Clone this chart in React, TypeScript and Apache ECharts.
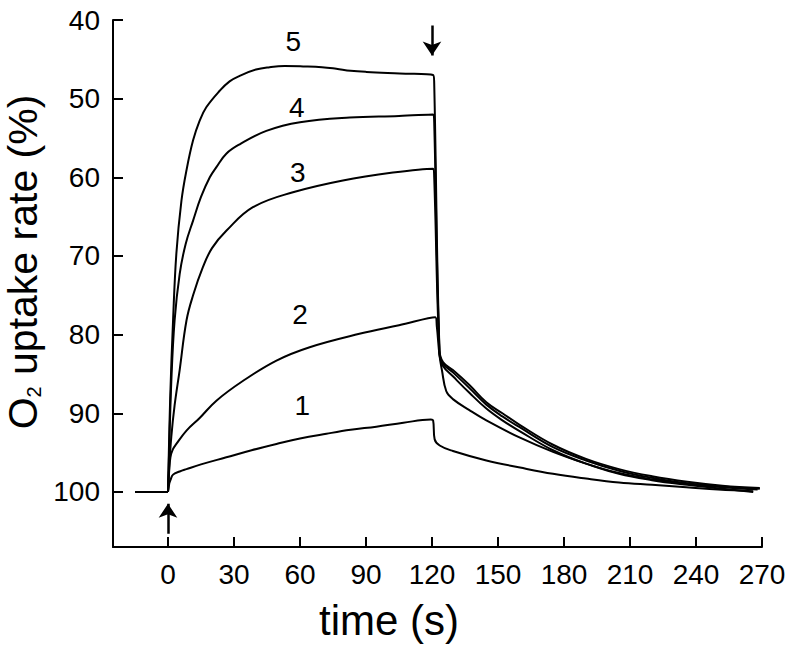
import React, { useEffect, useRef } from 'react';
import * as echarts from 'echarts';

const FONT = "'Liberation Sans', Arial, Helvetica, sans-serif";

// time (s), O2 uptake rate (%)
const baseline = [[-15, 100], [0, 100]];

const curve1 = [
  [0, 100], [0.6, 98.9], [1.1, 98.5], [2.3, 97.8], [5.3, 97.4], [8.4, 97.1], [15, 96.5], [26.5, 95.6],
  [38, 94.7], [49.3, 93.9], [60, 93.2], [72, 92.6], [83, 92.1], [94.7, 91.7], [107, 91.2], [119.5, 90.8],
  [120.5, 90.9], [121.2, 93.3], [123.5, 94.1], [129.5, 94.8], [144.7, 96.0], [160, 96.9], [175, 97.7],
  [190, 98.3], [205, 98.8], [220, 99.1], [235.6, 99.4], [250, 99.7], [266, 99.9]
];

const curve2 = [
  [0, 100], [0.5, 97.5], [1.1, 95.6], [2.2, 94.6], [3.8, 93.9], [8.4, 92.2], [14.4, 90.6], [22, 88.4],
  [34, 85.9], [49.3, 83.3], [64.4, 81.6], [87, 79.9], [105, 78.8], [121.5, 77.8],
  [122.2, 79.0], [123.4, 82.6], [124.5, 84.5], [126.5, 87.2], [129.5, 88.2], [137, 89.6], [144.7, 90.9],
  [160, 93.1], [175, 94.9], [190, 96.4], [205, 97.7], [220, 98.5], [236, 99.1], [252, 99.6], [266, 100.0]
];

const curve3 = [
  [0, 100], [0.5, 97], [1.5, 93], [3, 89], [5.3, 84.5], [8.4, 78.2], [11.4, 75.0], [15.9, 71.4],
  [20, 69.0], [26.5, 66.8], [38.6, 63.8], [56.8, 61.9], [79.5, 60.4], [102.3, 59.4], [120.5, 58.9],
  [121, 60.0], [123.4, 82.4], [125, 84.0], [129.5, 85.3], [137, 87.4], [144.7, 89.4], [152, 90.9],
  [160, 92.3], [175, 94.7], [190, 96.4], [205, 97.6], [220, 98.4], [236, 99.0], [252, 99.4], [268, 99.7]
];

const curve4 = [
  [0, 100], [0.5, 95], [1.5, 86], [3, 78.2], [5.3, 72.3], [8, 68.5], [11.4, 65.5], [15, 62.5],
  [19, 60.0], [22, 58.7], [26.5, 57.0], [32.6, 55.8], [44.7, 54.1], [60, 53.0], [82.6, 52.4],
  [105, 52.2], [120.5, 52.0],
  [121, 53.0], [123.4, 82.2], [125, 83.7], [129.5, 84.8], [137, 86.8], [144.7, 88.9], [152, 90.4],
  [160, 91.8], [175, 94.3], [190, 96.0], [205, 97.3], [220, 98.2], [236, 98.9], [252, 99.3], [269, 99.6]
];

const curve5 = [
  [0, 100], [0.3, 96], [1, 88], [2.3, 78.2], [3.8, 69.7], [6.1, 63.0], [8.4, 59.1], [11.4, 55.3],
  [14.4, 52.8], [17.4, 51.1], [23.5, 49.0], [28, 47.8], [32.6, 47.1], [40, 46.3], [46.2, 46.0],
  [53, 45.85], [61.4, 45.9], [70, 46.0], [76.5, 46.2], [83, 46.45], [90.2, 46.6], [105.3, 46.8],
  [120.5, 47.0],
  [121, 48.0], [123.4, 82.0], [125, 83.5], [129.5, 84.5], [137, 86.4], [144.7, 88.6], [152, 90.0],
  [160, 91.5], [175, 94.0], [190, 95.8], [205, 97.1], [220, 98.0], [236, 98.7], [252, 99.2], [269, 99.5]
];

const curveLabelText = ['1', '2', '3', '4', '5'];
const curveLabelX = [61, 60, 59, 58.5, 57];
const curveLabelY = [89.0, 77.5, 59.4, 51.1, 42.7];

const xTicks = [0, 30, 60, 90, 120, 150, 180, 210, 240, 270];
const yTicks = [40, 50, 60, 70, 80, 90, 100];

const arrowUp = [[0, 105.3], [0, 101.5]];
const arrowDown = [[120, 40.7], [120, 44.5]];

const curves = [curve1, curve2, curve3, curve4, curve5];

export default function App() {
  const ref = useRef<HTMLDivElement>(null);
  useEffect(() => {
    if (!ref.current) return;
    const chart = echarts.init(ref.current, null, { renderer: 'svg' });
    const lineSeries: any[] = curves.map((c, i) => ({
      type: 'line',
      name: 'curve' + (i + 1),
      data: c,
      symbol: 'none',
      smooth: 0.4,
      lineStyle: { color: '#000', width: 2 },
      z: 3,
    }));
    const option: any = {
      animation: false,
      backgroundColor: '#fff',
      grid: { left: 113, right: 30, top: 20, bottom: 105, containLabel: false },
      xAxis: {
        type: 'value', min: -25, max: 270,
        axisLine: { show: true, onZero: false, lineStyle: { color: '#000', width: 2 } },
        axisTick: { show: true, inside: true, length: 10, customValues: xTicks, lineStyle: { color: '#000', width: 2 } },
        axisLabel: { show: true, customValues: xTicks, color: '#000', fontSize: 28, fontFamily: FONT, margin: 13 },
        splitLine: { show: false },
      },
      yAxis: {
        type: 'value', inverse: true, min: 40, max: 107,
        axisLine: { show: true, onZero: false, lineStyle: { color: '#000', width: 2 } },
        axisTick: { show: true, inside: true, length: 10, customValues: yTicks, lineStyle: { color: '#000', width: 2 } },
        axisLabel: { show: true, customValues: yTicks, color: '#000', fontSize: 28, fontFamily: FONT, margin: 13 },
        splitLine: { show: false },
      },
      series: [
        {
          type: 'line', name: 'baseline', data: baseline, symbol: 'none',
          lineStyle: { color: '#000', width: 2 }, z: 3,
        },
        ...lineSeries,
        {
          type: 'scatter', name: 'labels',
          data: curveLabelText.map((t, i) => [curveLabelX[i], curveLabelY[i], t]),
          symbol: 'circle',
          symbolSize: 1,
          itemStyle: { color: '#000', opacity: 0 },
          label: {
            show: true, position: 'inside', formatter: (p: any) => p.data[2],
            color: '#000', opacity: 1, fontSize: 28, fontFamily: FONT,
            textBorderWidth: 0, textBorderColor: 'transparent',
          },
          emphasis: { disabled: true },
          z: 4,
        },
        {
          type: 'lines', coordinateSystem: 'cartesian2d', name: 'arrows',
          symbol: ['none', 'arrow'], symbolSize: [9, 14],
          lineStyle: { color: '#000', width: 2.5, opacity: 1 },
          data: [{ coords: arrowUp }, { coords: arrowDown }],
          z: 4,
        },
      ],
      graphic: [
        {
          type: 'text', x: 23, y: 262, rotation: Math.PI / 2,
          style: {
            text: 'O{s|2} uptake rate (%)',
            fontSize: 41, fontFamily: FONT, fill: '#000',
            lineHeight: 41,
            align: 'center', verticalAlign: 'middle',
            textAlign: 'center', textVerticalAlign: 'middle',
            rich: { s: { fontSize: 20, lineHeight: 20, padding: [0, 0, 0, 0], verticalAlign: 'bottom', fontFamily: FONT, fill: '#000' } },
          },
        },
        {
          type: 'text', x: 389, y: 620,
          style: {
            text: 'time (s)', fontSize: 42, fontFamily: FONT, fill: '#000',
            align: 'center', verticalAlign: 'middle',
            textAlign: 'center', textVerticalAlign: 'middle',
          },
        },
      ],
    };
    chart.setOption(option);
    return () => chart.dispose();
  }, []);
  return (
    <div
      ref={ref}
      style={{ position: 'fixed', left: 0, top: 0, width: 792, height: 652, background: '#fff' }}
    />
  );
}
